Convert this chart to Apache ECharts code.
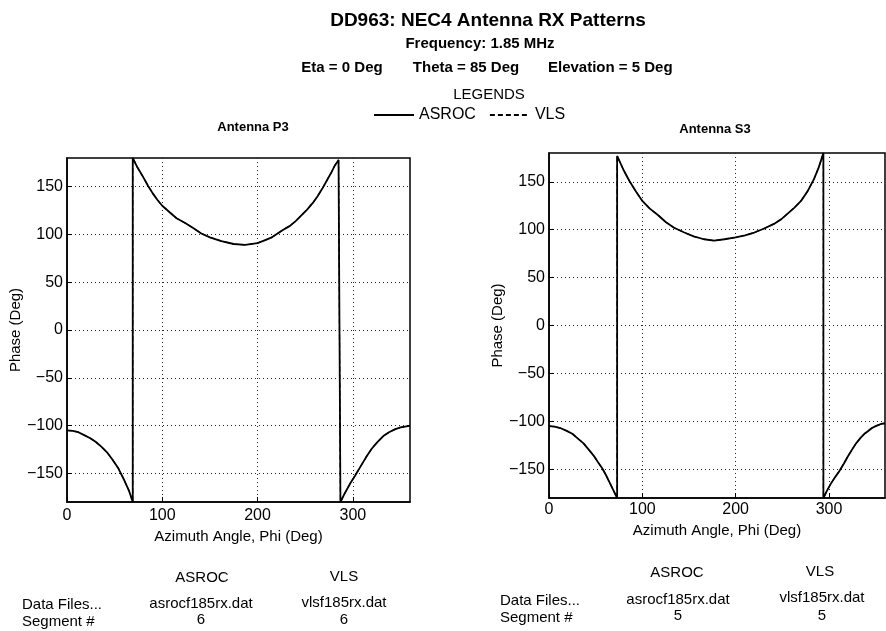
<!DOCTYPE html>
<html>
<head>
<meta charset="utf-8">
<script src="https://cdn.jsdelivr.net/npm/echarts@6/dist/echarts.min.js"></script>
<style>
  html, body { margin: 0; padding: 0; background: #fff; }
  #main { width: 886px; height: 631px; }
</style>
</head>
<body>
<div id="main"></div>
<script>
// Antenna P3 phase curve (azimuth deg, phase deg)
var p3Phi   = [0, 6, 12, 18, 24, 30, 36, 42, 48, 54, 60, 65, 69,
               69, 74, 80, 85, 90, 95, 100, 108, 115, 124, 132, 141, 150, 162, 175, 187, 200, 208, 215, 221, 227, 234, 240, 246, 252, 258, 263, 268, 273, 277, 281, 285, 287,
               287, 292, 297, 302, 308, 314, 320, 326, 332, 338, 344, 350, 355, 360];
var p3Phase = [-105, -105.5, -107, -110, -113, -117, -122, -128, -136, -145, -157, -168, -180,
               180, 170, 160, 151, 143, 136, 130, 123, 117, 112, 107, 101, 97, 93, 90, 89, 91, 94, 97, 101, 105, 109, 114, 120, 126, 133, 140, 148, 157, 164, 172, 178, 180,
               -180, -170, -161, -153, -143, -133, -124, -117, -111, -107, -104, -102, -101, -100];
// Antenna S3 phase curve
var s3Phi   = [0, 6, 12, 19, 25, 31, 37, 43, 48, 52, 57, 61, 65, 69, 73,
               73, 80, 86, 93, 100, 108, 117, 125, 134, 145, 155, 166, 177, 188, 200, 210, 220, 230, 241, 249, 256, 263, 270, 277, 284, 289, 294,
               294, 298, 302, 306, 311, 316, 320, 325, 329, 334, 338, 342, 346, 350, 355, 360];
var s3Phase = [-105, -105.5, -107, -110, -113, -118, -123, -130, -136, -142, -149, -156, -164, -172, -180,
               177, 162, 151, 140, 130, 122, 115, 108, 102, 97, 93, 90, 88.5, 90, 92, 94, 97, 101, 106, 111, 117, 123, 130, 140, 153, 165, 180,
               -180, -172, -165, -159, -152, -144, -137, -129, -123, -117, -113, -110, -107, -105, -103, -102];

var xTicks = [0, 100, 200, 300];
var yTicks = [-150, -100, -50, 0, 50, 100, 150];
var seriesNames = ['ASROC', 'VLS'];
var plotTitles = ['Antenna P3', 'Antenna S3'];
var fileLabels = ['Data Files...', 'Segment #'];
var fileNames = ['asrocf185rx.dat', 'vlsf185rx.dat'];
var segmentsP3 = ['6', '6'];
var segmentsS3 = ['5', '5'];

var FONT = '"Liberation Sans", Arial, Helvetica, sans-serif';

function pairs(xs, ys) {
    return xs.map(function (x, i) { return [x, ys[i]]; });
}

function minusSign(v) {
    return String(v).replace('-', '\u2212');
}

function xAxisFor(idx, labelMargin, nameGap) {
    return {
        type: 'value', gridIndex: idx, min: 0, max: 360,
        name: 'Azimuth Angle, Phi (Deg)', nameLocation: 'middle', nameGap: nameGap,
        nameTextStyle: { fontFamily: FONT, fontSize: 15, color: '#000' },
        axisLine: { show: true, onZero: false, lineStyle: { color: '#000', width: 1.5 } },
        axisTick: { inside: true, length: 5, customValues: xTicks, lineStyle: { color: '#000' } },
        axisLabel: { customValues: xTicks, margin: labelMargin, fontFamily: FONT, fontSize: 16, color: '#000' },
        splitLine: { show: true, lineStyle: { color: '#222', type: [1, 3], width: 1 } }
    };
}

function yAxisFor(idx, nameGap) {
    return {
        type: 'value', gridIndex: idx, min: -180, max: 180,
        name: 'Phase (Deg)', nameLocation: 'middle', nameGap: nameGap,
        nameTextStyle: { fontFamily: FONT, fontSize: 15, color: '#000' },
        axisLine: { show: true, onZero: false, lineStyle: { color: '#000', width: 1.5 } },
        axisTick: { inside: true, length: 5, customValues: yTicks, lineStyle: { color: '#000' } },
        axisLabel: { customValues: yTicks, margin: 4, fontFamily: FONT, fontSize: 16, color: '#000', formatter: minusSign },
        splitLine: { show: true, lineStyle: { color: '#222', type: [1, 3], width: 1 } }
    };
}

function lineSeries(name, idx, data, dashed) {
    return {
        name: name, type: 'line', xAxisIndex: idx, yAxisIndex: idx,
        data: data, symbol: 'none', silent: true, animation: false,
        lineStyle: { color: '#000', width: dashed ? 1.2 : 1.8, type: dashed ? [5, 3] : 'solid' },
        itemStyle: { color: '#000' }
    };
}

var p3Data = pairs(p3Phi, p3Phase);
var s3Data = pairs(s3Phi, s3Phase);

function textEl(x, y, text, align) {
    return {
        type: 'text', x: x, y: y,
        style: { text: text, fill: '#000', font: '15px ' + FONT, textAlign: align || 'center', textVerticalAlign: 'middle' }
    };
}

var graphics = [
    textEl(202, 578, seriesNames[0]), textEl(344, 577, seriesNames[1]),
    textEl(22, 605, fileLabels[0], 'left'), textEl(201, 604, fileNames[0]), textEl(344, 603, fileNames[1]),
    textEl(22, 622, fileLabels[1], 'left'), textEl(201, 620, segmentsP3[0]), textEl(344, 620, segmentsP3[1]),
    textEl(677, 573, seriesNames[0]), textEl(820, 572, seriesNames[1]),
    textEl(500, 601, fileLabels[0], 'left'), textEl(678, 600, fileNames[0]), textEl(822, 598, fileNames[1]),
    textEl(500, 618, fileLabels[1], 'left'), textEl(678, 616, segmentsS3[0]), textEl(822, 616, segmentsS3[1])
];

var chart = echarts.init(document.getElementById('main'));
var option = {
    backgroundColor: '#fff',
    animation: false,
    title: [
        { text: 'DD963: NEC4 Antenna RX Patterns', left: 483, top: 6, textAlign: 'center',
          textStyle: { fontFamily: FONT, fontSize: 19, fontWeight: 'bold', color: '#000' } },
        { text: 'Frequency: 1.85 MHz', left: 475, top: 31, textAlign: 'center',
          textStyle: { fontFamily: FONT, fontSize: 15, fontWeight: 'bold', color: '#000' } },
        { text: 'Eta = 0 Deg', left: 337, top: 55, textAlign: 'center',
          textStyle: { fontFamily: FONT, fontSize: 15, fontWeight: 'bold', color: '#000' } },
        { text: 'Theta = 85 Deg', left: 461, top: 55, textAlign: 'center',
          textStyle: { fontFamily: FONT, fontSize: 15, fontWeight: 'bold', color: '#000' } },
        { text: 'Elevation = 5 Deg', left: 543, top: 55,
          textStyle: { fontFamily: FONT, fontSize: 15, fontWeight: 'bold', color: '#000' } },
        { text: 'LEGENDS', left: 484, top: 82, textAlign: 'center',
          textStyle: { fontFamily: FONT, fontSize: 15, fontWeight: 'normal', color: '#000' } },
        { text: plotTitles[0], left: 248, top: 116, textAlign: 'center',
          textStyle: { fontFamily: FONT, fontSize: 13, fontWeight: 'bold', color: '#000' } },
        { text: plotTitles[1], left: 710, top: 118, textAlign: 'center',
          textStyle: { fontFamily: FONT, fontSize: 13, fontWeight: 'bold', color: '#000' } }
    ],
    legend: {
        data: seriesNames, left: 368, top: 102, itemWidth: 40, itemHeight: 10, itemGap: 13,
        selectedMode: false,
        itemStyle: { opacity: 0, borderWidth: 0 },
        textStyle: { fontFamily: FONT, fontSize: 16, color: '#000' }
    },
    grid: [
        { left: 67, top: 158, width: 343, height: 344, show: true, borderColor: '#000', borderWidth: 1.5, backgroundColor: 'transparent' },
        { left: 549, top: 153, width: 336, height: 345, show: true, borderColor: '#000', borderWidth: 1.5, backgroundColor: 'transparent' }
    ],
    xAxis: [xAxisFor(0, 6, 24), xAxisFor(1, 4, 18)],
    yAxis: [yAxisFor(0, 41), yAxisFor(1, 44)],
    series: [
        lineSeries(seriesNames[0], 0, p3Data, false),
        lineSeries(seriesNames[1], 0, p3Data, true),
        lineSeries(seriesNames[0], 1, s3Data, false),
        lineSeries(seriesNames[1], 1, s3Data, true)
    ],
    graphic: graphics
};
chart.setOption(option);
</script>
</body>
</html>
